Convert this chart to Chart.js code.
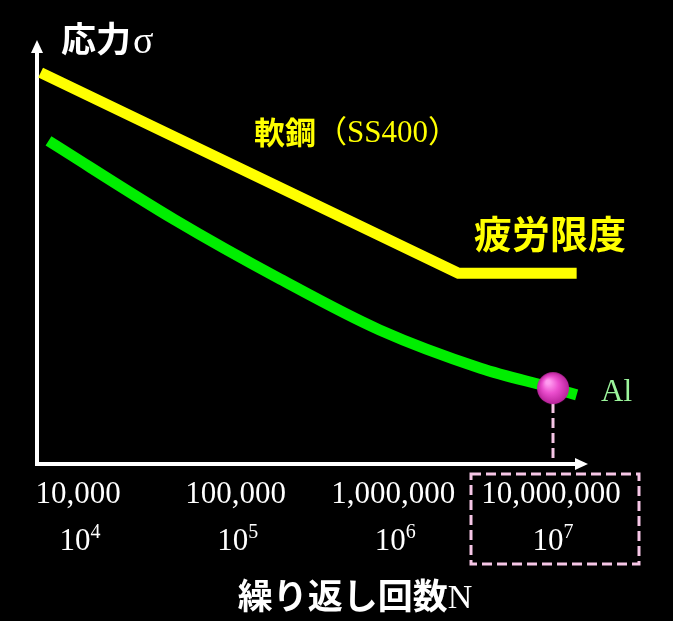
<!DOCTYPE html>
<html>
<head>
<meta charset="utf-8">
<script src="https://cdn.jsdelivr.net/npm/chart.js@4.4.1/dist/chart.umd.min.js"></script>
<style>
  body { margin: 0; background: #000; }
  #wrap { width: 673px; height: 621px; }
</style>
</head>
<body>
<div id="wrap"><canvas id="snChart" width="673" height="621"></canvas></div>
<script>
// x = log10(N), y = stress (arbitrary units, schematic)
var tickValues = [4, 5, 6, 7];
var tickLabels = ['10,000', '100,000', '1,000,000', '10,000,000'];
var tickPowers = ['4', '5', '6', '7'];

var steelX = [3.75, 6.40, 7.15];
var steelY = [92.3, 45.0, 45.0];

var alX = [3.80, 4.60, 5.27, 5.90, 6.54, 7.00, 7.15];
var alY = [76.2, 57.6, 43.6, 31.6, 22.6, 17.9, 16.3];

var limitX = [7];
var limitY = [17.9];

var CJK = '"Noto Sans CJK JP", sans-serif';
var SERIF = '"Liberation Serif", "DejaVu Serif", serif';

function toPts(xs, ys) {
    var out = [];
    for (var i = 0; i < xs.length; i++) out.push({ x: xs[i], y: ys[i] });
    return out;
}

// shaded pink ball for the fatigue point
function makeBall(r) {
    var c = document.createElement('canvas');
    c.width = r * 2 + 2; c.height = r * 2 + 2;
    var g = c.getContext('2d');
    var grd = g.createRadialGradient(r - 4, r - 5, 2, r + 1, r + 1, r);
    grd.addColorStop(0, '#ff9cf0');
    grd.addColorStop(0.45, '#ec4fcf');
    grd.addColorStop(1, '#b8229a');
    g.fillStyle = grd;
    g.beginPath();
    g.arc(r + 1, r + 1, r, 0, Math.PI * 2);
    g.fill();
    return c;
}

var decoPlugin = {
    id: 'deco',
    beforeDatasetsDraw: function(chart) {
        var c = chart.ctx, xs = chart.scales.x, ys = chart.scales.y;
        var area = chart.chartArea;
        c.save();
        // dashed drop line from the point to the axis
        c.strokeStyle = '#f6c6e6';
        c.lineWidth = 3;
        c.setLineDash([10, 5]);
        var px = xs.getPixelForValue(limitX[0]);
        c.beginPath();
        c.moveTo(px, ys.getPixelForValue(limitY[0]));
        c.lineTo(px, area.bottom);
        c.stroke();
        c.setLineDash([]);

        // axes
        c.strokeStyle = '#fff';
        c.fillStyle = '#fff';
        c.lineWidth = 4;
        c.beginPath();
        c.moveTo(area.left, area.top + 8);
        c.lineTo(area.left, area.bottom);
        c.lineTo(area.right - 8, area.bottom);
        c.stroke();
        c.beginPath();
        c.moveTo(area.left, area.top);
        c.lineTo(area.left - 6, area.top + 13);
        c.lineTo(area.left + 6, area.top + 13);
        c.closePath();
        c.fill();
        c.beginPath();
        c.moveTo(area.right, area.bottom);
        c.lineTo(area.right - 13, area.bottom - 6);
        c.lineTo(area.right - 13, area.bottom + 6);
        c.closePath();
        c.fill();
        c.restore();
    },
    afterDraw: function(chart) {
        var c = chart.ctx, xs = chart.scales.x;
        c.save();
        c.textBaseline = 'middle';

        // tick labels
        for (var i = 0; i < tickValues.length; i++) {
            var x = xs.getPixelForValue(tickValues[i]);
            c.fillStyle = '#fff';
            c.textAlign = 'center';
            c.font = '31px ' + SERIF;
            c.fillText(tickLabels[i], x - 2, 495);
            var w1 = c.measureText('10').width;
            c.font = '20px ' + SERIF;
            var w2 = c.measureText(tickPowers[i]).width;
            var sx = x - (w1 + w2) / 2;
            c.textAlign = 'left';
            c.font = '31px ' + SERIF;
            c.fillText('10', sx, 542);
            c.font = '20px ' + SERIF;
            c.fillText(tickPowers[i], sx + w1, 533);
        }

        // dashed box around 10^7
        c.strokeStyle = '#f6c6e6';
        c.lineWidth = 3;
        c.setLineDash([10, 5]);
        c.strokeRect(471, 474, 168, 90);
        c.setLineDash([]);

        // y title
        c.fillStyle = '#fff';
        c.textAlign = 'left';
        c.font = 'bold 35px ' + CJK;
        c.fillText('応力', 61, 39);
        c.font = '38px ' + SERIF;
        c.fillText('σ', 133, 43);

        // x title
        c.font = 'bold 35px ' + CJK;
        var t = '繰り返し回数';
        var tw = c.measureText(t).width;
        c.font = '34px ' + SERIF;
        var nw = c.measureText('N').width;
        var tx = 355 - (tw + nw) / 2;
        c.font = 'bold 35px ' + CJK;
        c.fillText(t, tx, 596);
        c.font = '34px ' + SERIF;
        c.fillText('N', tx + tw, 599);

        // series labels
        c.fillStyle = '#ffff00';
        c.font = 'bold 31px ' + CJK;
        c.fillText('軟鋼', 254, 132);
        var kw = c.measureText('軟鋼').width;
        c.font = '31px ' + SERIF + ', ' + CJK;
        c.fillText('（SS400）', 254 + kw, 134);
        c.font = 'bold 38px ' + CJK;
        c.fillText('疲労限度', 474, 234);

        c.fillStyle = '#9cf59c';
        c.font = '31px ' + SERIF;
        c.fillText('Al', 601, 393);
        c.restore();
    }
};

var snChart = new Chart(document.getElementById('snChart'), {
    type: 'scatter',
    data: {
        datasets: [
            {
                label: 'fatigue point',
                data: toPts(limitX, limitY),
                pointStyle: makeBall(16),
                pointRadius: 16,
                showLine: false
            },
            {
                label: '軟鋼（SS400）',
                data: toPts(steelX, steelY),
                showLine: true,
                borderColor: '#ffff00',
                borderWidth: 11,
                borderCapStyle: 'butt',
                borderJoinStyle: 'miter',
                pointRadius: 0
            },
            {
                label: 'Al',
                data: toPts(alX, alY),
                showLine: true,
                borderColor: '#00ee00',
                borderWidth: 11,
                borderCapStyle: 'butt',
                tension: 0.4,
                cubicInterpolationMode: 'monotone',
                pointRadius: 0
            }
        ]
    },
    options: {
        responsive: false,
        animation: false,
        clip: false,
        layout: { padding: { left: 37, right: 85, top: 40, bottom: 157 } },
        plugins: {
            legend: { display: false },
            tooltip: { enabled: false }
        },
        scales: {
            x: { type: 'linear', display: false, min: 3.727, max: 7.222 },
            y: { type: 'linear', display: false, min: 0, max: 100 }
        }
    },
    plugins: [decoPlugin]
});
</script>
</body>
</html>
